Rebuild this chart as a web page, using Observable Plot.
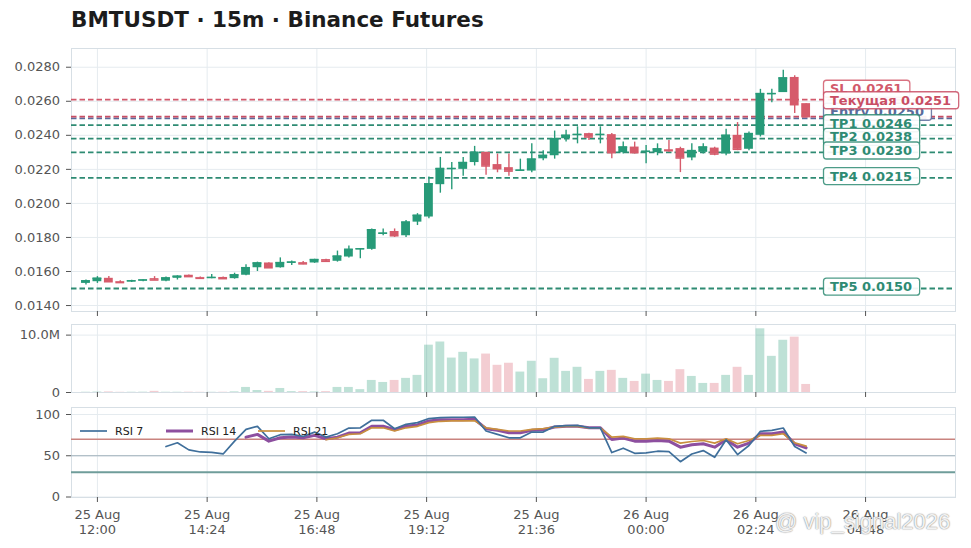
<!DOCTYPE html>
<html>
<head>
<meta charset="utf-8">
<script src="https://cdn.jsdelivr.net/npm/d3@7"></script>
<script src="https://cdn.jsdelivr.net/npm/@observablehq/plot@0.6"></script>
<style>
  html, body { margin: 0; padding: 0; background: #ffffff; }
  #wrap { position: relative; width: 971px; height: 548px; overflow: hidden; font-family: "DejaVu Sans", sans-serif; }
  #title { position: absolute; left: 71px; top: 9px; font-size: 21.5px; line-height: 22px; font-weight: bold; color: #1c1c1c; white-space: nowrap; }
  .panel { position: absolute; left: 0; }
  .panel svg { display: block; overflow: visible; }
  .leg { position: absolute; display: flex; align-items: center; font-size: 11px; color: #222; white-space: nowrap; }
  .leg svg { margin-right: 8px; }
  #wm { position: absolute; left: 775px; top: 510px; font-family: "Liberation Sans", Arial, sans-serif; font-size: 22px; line-height: 24px; color: rgba(255,255,255,0.88); text-shadow: 0 0 1.5px #888, 0 0 1px #aaa; white-space: nowrap; }
</style>
</head>
<body>
<div id="wrap">
  <div id="title">BMTUSDT · 15m · Binance Futures</div>
</div>
<script>
// ---------------- DATA ----------------
const startTime = "2025-08-25T11:45:00Z";   // first 15m candle
const intervalMin = 15;

const openP  = [0.01530,0.01540,0.01560,0.01540,0.01540,0.01545,0.01558,0.01543,0.01560,0.01578,
                0.01565,0.01560,0.01565,0.01558,0.01578,0.01622,0.01650,0.01622,0.01650,0.01652,
                0.01650,0.01670,0.01660,0.01685,0.01730,0.01730,0.01820,0.01835,0.01810,0.01890,
                0.01920,0.02110,0.02200,0.02200,0.02240,0.02300,0.02228,0.02210,0.02190,0.02190,
                0.02262,0.02280,0.02380,0.02400,0.02410,0.02400,0.02404,0.02298,0.02331,0.02300,
                0.02298,0.02315,0.02322,0.02267,0.02300,0.02325,0.02290,0.02400,0.02318,0.02400,
                0.02640,0.02651,0.02740,0.02586];
const highP  = [0.01550,0.01570,0.01570,0.01545,0.01548,0.01552,0.01570,0.01568,0.01575,0.01580,
                0.01568,0.01582,0.01568,0.01590,0.01640,0.01655,0.01652,0.01680,0.01662,0.01658,
                0.01672,0.01672,0.01720,0.01750,0.01735,0.01850,0.01850,0.01850,0.01900,0.01940,
                0.02155,0.02270,0.02240,0.02270,0.02335,0.02300,0.02290,0.02290,0.02260,0.02350,
                0.02310,0.02425,0.02430,0.02450,0.02412,0.02450,0.02410,0.02360,0.02360,0.02340,
                0.02350,0.02370,0.02330,0.02350,0.02350,0.02330,0.02435,0.02475,0.02420,0.02670,
                0.02670,0.02782,0.02750,0.02586];
const lowP   = [0.01520,0.01530,0.01535,0.01530,0.01535,0.01540,0.01548,0.01540,0.01550,0.01568,
                0.01560,0.01558,0.01555,0.01555,0.01575,0.01600,0.01620,0.01620,0.01635,0.01640,
                0.01648,0.01655,0.01655,0.01680,0.01675,0.01725,0.01810,0.01800,0.01800,0.01870,
                0.01910,0.02060,0.02080,0.02160,0.02220,0.02165,0.02180,0.02160,0.02188,0.02180,
                0.02250,0.02260,0.02360,0.02350,0.02370,0.02350,0.02263,0.02290,0.02290,0.02233,
                0.02280,0.02300,0.02181,0.02250,0.02290,0.02280,0.02280,0.02310,0.02310,0.02390,
                0.02592,0.02651,0.02528,0.02505];
const closeP = [0.01545,0.01560,0.01540,0.01535,0.01545,0.01550,0.01550,0.01562,0.01572,0.01570,
                0.01560,0.01565,0.01558,0.01580,0.01622,0.01650,0.01622,0.01652,0.01655,0.01645,
                0.01670,0.01660,0.01690,0.01730,0.01733,0.01845,0.01825,0.01810,0.01890,0.01930,
                0.02115,0.02205,0.02205,0.02240,0.02300,0.02220,0.02204,0.02190,0.02195,0.02260,
                0.02282,0.02380,0.02400,0.02405,0.02390,0.02405,0.02298,0.02331,0.02298,0.02306,
                0.02320,0.02310,0.02267,0.02310,0.02331,0.02290,0.02400,0.02318,0.02410,0.02645,
                0.02645,0.02737,0.02580,0.02510];
const volumeM = [0.05,0.08,0.10,0.04,0.05,0.06,0.20,0.05,0.05,0.06,
                 0.04,0.04,0.05,0.12,0.88,0.35,0.20,0.70,0.15,0.15,
                 0.10,0.15,0.88,0.88,0.50,2.10,1.75,2.10,2.46,2.98,
                 8.25,8.80,6.00,7.00,5.85,6.70,4.74,5.10,3.56,5.44,
                 2.40,5.96,3.68,4.39,2.28,3.68,3.86,2.46,1.93,3.20,
                 2.10,1.93,3.98,2.80,1.58,1.58,2.98,4.39,2.98,11.10,
                 6.30,9.10,9.65,1.40];
const rsi7  = [null,null,null,null,null,null,null,61.2,65.7,57.1,
               54.6,54.2,52.2,67.7,82.0,85.7,70.6,75.5,75.9,73.4,
               78.7,72.6,76.7,83.6,83.9,93.0,93.0,82.8,88.1,90.2,
               95.1,96.3,96.7,96.7,97.0,80.0,75.9,71.8,71.8,78.7,
               78.7,85.7,86.5,86.9,83.9,83.9,53.9,59.2,53.0,53.5,
               55.5,55.0,42.8,52.2,56.3,48.1,69.4,51.4,62.4,79.6,
               80.8,83.6,61.2,53.4];
const rsi14 = [null,null,null,null,null,null,null,null,null,null,
               null,null,null,null,72.6,75.9,67.7,71.8,72.6,71.8,
               74.7,70.6,72.6,77.5,77.9,85.7,85.7,81.6,85.7,87.3,
               92.2,93.8,93.8,93.8,94.2,82.8,80.8,77.9,77.9,80.8,
               81.6,84.8,85.7,85.7,83.9,83.9,69.8,71.4,67.7,67.7,
               68.5,67.7,60.4,63.3,64.5,60.4,69.4,60.4,65.3,76.7,
               76.7,78.7,64.5,59.6];
const rsi21 = [null,null,null,null,null,null,null,null,null,null,
               null,null,null,null,null,null,null,null,null,null,
               null,69.4,71.8,75.9,76.7,83.9,83.9,80.0,83.9,85.7,
               90.2,91.8,92.2,92.2,92.4,83.9,82.0,80.0,80.0,82.0,
               82.8,84.8,85.7,85.7,83.9,83.9,72.6,73.4,70.6,70.6,
               71.4,70.6,65.3,67.3,68.5,65.3,70.6,64.5,68.5,74.7,
               74.7,76.7,65.7,61.6];

// trade levels (drawing order for labels: later ones sit on top)
const levelNames  = ["SL", "Entry", "TP1", "TP2", "TP3", "TP4", "TP5", "Текущая"];
const levelPrices = [0.0261, 0.0250, 0.0246, 0.0238, 0.0230, 0.0215, 0.0150, 0.0251];

const xTickLabels = ["2025-08-25T12:00Z","2025-08-25T14:24Z","2025-08-25T16:48Z","2025-08-25T19:12Z",
                     "2025-08-25T21:36Z","2025-08-26T00:00Z","2025-08-26T02:24Z","2025-08-26T04:48Z"];
const priceTicks = [0.014, 0.016, 0.018, 0.020, 0.022, 0.024, 0.026, 0.028];
const volTicks = [0, 10e6];
const rsiTicks = [0, 50, 100];
const rsiRefs = [70, 50, 30];
const rsiNames = ["RSI 7", "RSI 14", "RSI 21"];
const watermarkText = "@ vip_signal2026";

// ---------------- STYLE ----------------
const FONT = "DejaVu Sans";
const GREEN = "#279a78", RED = "#d65b6b";
const GRID = "#e5ebef", FRAME = "#d7dfe5";
const levelColor = {SL: "#d2596b", "Текущая": "#c94e64", Entry: "#5a6b9b", TP: "#2e8b73"};
const colorOf = n => levelColor[n] || levelColor.TP;
const rsiColor = {"RSI 7": "#3f6f9b", "RSI 14": "#8d4f9f", "RSI 21": "#c98f3e"};
const rsiWidth = {"RSI 7": 1.7, "RSI 14": 3, "RSI 21": 1.7};
const refColor = {70: "#c9837f", 50: "#9fb1ba", 30: "#6f9d9a"};
const refWidth = {70: 1.6, 50: 1.2, 30: 2.0};

const W = 971, ML = 71, MR = 16;
const xDomain = [new Date("2025-08-25T11:26Z"), new Date("2025-08-26T06:46Z")];
const xs = d3.scaleUtc(xDomain, [ML, W - MR]);
const xTicks = xTickLabels.map(s => new Date(s));
const halfW = 5.8 * 60000; // half body width in ms

// ---------------- TABLES ----------------
const t0 = new Date(startTime).getTime();
const candles = openP.map((o, i) => ({
  t: new Date(t0 + i * intervalMin * 60000),
  open: o, high: highP[i], low: lowP[i], close: closeP[i],
  volume: volumeM[i] * 1e6,
  rsi7: rsi7[i], rsi14: rsi14[i], rsi21: rsi21[i]
}));
candles.forEach(d => { d.x1 = new Date(+d.t - halfW); d.x2 = new Date(+d.t + halfW); d.up = d.close >= d.open; });
const ups = candles.filter(d => d.up), downs = candles.filter(d => !d.up);

const levels = levelNames.map((n, i) => ({name: n, price: levelPrices[i]}));

// label placement (simple dodge in pixel space)
const PH = 279, PMT = 8, PMB = 8;
const priceDomain = [0.01365, 0.0291];
const yPx = d3.scaleLinear(priceDomain, [PH - PMB, PMT]);
const GAP = 11.5;
const sorted = [...levels].sort((a, b) => a.price - b.price);
let prev = Infinity;
for (const l of sorted) {
  let y = yPx(l.price) - 1.5;
  if (y > prev - GAP) y = prev - GAP;
  l.labelY = yPx.invert(y);
  prev = y;
}
const labelX = xs.invert(829.5);

function wrapPanel(top, el) {
  const d = document.createElement("div");
  d.className = "panel";
  d.style.top = top + "px";
  d.appendChild(el);
  document.getElementById("wrap").appendChild(d);
  return d;
}

const baseStyle = {fontFamily: FONT, fontSize: "13px", color: "#555", background: "transparent", overflow: "visible"};

// ---------------- PRICE PANEL ----------------
const pricePlot = Plot.plot({
  width: W, height: PH, marginLeft: ML, marginRight: MR, marginTop: PMT, marginBottom: PMB,
  style: baseStyle,
  x: {type: "utc", domain: xDomain, label: null},
  y: {domain: priceDomain, label: null},
  marks: [
    Plot.gridY(priceTicks, {stroke: GRID, strokeOpacity: 1}),
    Plot.gridX(xTicks, {stroke: GRID, strokeOpacity: 1}),
    Plot.frame({stroke: FRAME}),
    Plot.axisY(priceTicks, {label: null, tickSize: 5, tickPadding: 6.5, tickFormat: d3.format(".4f"), fontSize: 13}),
    Plot.axisX(xTicks, {label: null, tickSize: 5, tickFormat: () => ""}),
    ...levels.map(l => Plot.ruleY([l], {y: "price", stroke: colorOf(l.name), strokeWidth: 1.8, strokeDasharray: "5.5,3"})),
    Plot.ruleX(ups, {x: "t", y1: "low", y2: "high", stroke: GREEN, strokeWidth: 1.4}),
    Plot.ruleX(downs, {x: "t", y1: "low", y2: "high", stroke: RED, strokeWidth: 1.4}),
    Plot.rect(ups, {x1: "x1", x2: "x2", y1: "open", y2: "close", fill: GREEN}),
    Plot.rect(downs, {x1: "x1", x2: "x2", y1: "open", y2: "close", fill: RED}),
    Plot.ruleY(ups, {x1: "x1", x2: "x2", y: "close", stroke: GREEN, strokeWidth: 1.6}),
    Plot.ruleY(downs, {x1: "x1", x2: "x2", y: "close", stroke: RED, strokeWidth: 1.6}),
    Plot.text(levels, {
      x: () => labelX, y: "labelY",
      text: d => `${d.name} ${d.price.toFixed(4)}`,
      fill: d => colorOf(d.name),
      textAnchor: "start", fontWeight: "bold", fontSize: 13
    })
  ],
  color: {type: "identity"}
});
wrapPanel(40, pricePlot);

// boxes behind level labels
(function addBoxes() {
  const gs = pricePlot.querySelectorAll('g[aria-label="text"]');
  gs.forEach(g => {
    g.querySelectorAll("text").forEach(t => {
      const bb = t.getBBox();
      const r = document.createElementNS("http://www.w3.org/2000/svg", "rect");
      r.setAttribute("x", bb.x - 6.5);
      r.setAttribute("y", bb.y - 1);
      r.setAttribute("width", bb.width + 14);
      r.setAttribute("height", bb.height + 2);
      r.setAttribute("rx", 3);
      r.setAttribute("fill", "#ffffff");
      r.setAttribute("fill-opacity", 0.92);
      const c = t.getAttribute("fill") || getComputedStyle(t).fill;
      r.setAttribute("stroke", c);
      r.setAttribute("stroke-opacity", 0.85);
      r.setAttribute("stroke-width", 1.3);
      if (t.getAttribute("transform")) r.setAttribute("transform", t.getAttribute("transform"));
      g.insertBefore(r, t);
    });
  });
})();

// ---------------- VOLUME PANEL ----------------
const volPlot = Plot.plot({
  width: W, height: 84, marginLeft: ML, marginRight: MR, marginTop: 8, marginBottom: 8,
  style: baseStyle,
  x: {type: "utc", domain: xDomain, label: null},
  y: {domain: [0, 11.85e6], label: null},
  marks: [
    Plot.gridY(volTicks, {stroke: GRID, strokeOpacity: 1}),
    Plot.gridX(xTicks, {stroke: GRID, strokeOpacity: 1}),
    Plot.frame({stroke: FRAME}),
    Plot.axisY(volTicks, {label: null, tickSize: 5, tickPadding: 6.5, fontSize: 13,
      tickFormat: d => d === 0 ? "0" : (d / 1e6).toFixed(1) + "M"}),
    Plot.axisX(xTicks, {label: null, tickSize: 5, tickFormat: () => ""}),
    Plot.rectY(ups, {x1: "x1", x2: "x2", y: "volume", fill: GREEN, fillOpacity: 0.3}),
    Plot.rectY(downs, {x1: "x1", x2: "x2", y: "volume", fill: RED, fillOpacity: 0.3})
  ]
});
wrapPanel(316, volPlot);

// ---------------- RSI PANEL ----------------
const fmtX = d3.utcFormat("%d %b\n%H:%M");
const rsiKeys = {"RSI 7": "rsi7", "RSI 14": "rsi14", "RSI 21": "rsi21"};
const rsiPlot = Plot.plot({
  width: W, height: 149, marginLeft: ML, marginRight: MR, marginTop: 8, marginBottom: 51,
  style: baseStyle,
  x: {type: "utc", domain: xDomain, label: null},
  y: {domain: [-0.6, 108.5], label: null},
  marks: [
    Plot.gridY(rsiTicks, {stroke: GRID, strokeOpacity: 1}),
    Plot.gridX(xTicks, {stroke: GRID, strokeOpacity: 1}),
    Plot.frame({stroke: FRAME}),
    Plot.axisY(rsiTicks, {label: null, tickSize: 5, tickPadding: 6.5, fontSize: 13}),
    Plot.axisX(xTicks, {label: null, tickSize: 5, tickPadding: 5.5, fontSize: 13, lineHeight: 1.15, tickFormat: d => fmtX(d)}),
    ...rsiRefs.map(v => Plot.ruleY([v], {stroke: refColor[v], strokeWidth: refWidth[v]})),
    ...["RSI 14", "RSI 21", "RSI 7"].map(n => Plot.line(candles, {
      x: "t", y: rsiKeys[n], stroke: rsiColor[n], strokeWidth: rsiWidth[n]
    }))
  ]
});
wrapPanel(399, rsiPlot);

// ---------------- LEGEND ----------------
const legLeft = [80, 166, 258];
rsiNames.forEach((n, i) => {
  const d = document.createElement("div");
  d.className = "leg";
  d.style.left = legLeft[i] + "px";
  d.style.top = "424px";
  d.innerHTML = `<svg width="27" height="14"><line x1="0" x2="27" y1="7" y2="7" stroke="${rsiColor[n]}" stroke-width="${rsiWidth[n]}"/></svg><span>${n}</span>`;
  document.getElementById("wrap").appendChild(d);
});

// ---------------- WATERMARK ----------------
const wm = document.createElement("div");
wm.id = "wm";
wm.textContent = watermarkText;
document.getElementById("wrap").appendChild(wm);
</script>
</body>
</html>
